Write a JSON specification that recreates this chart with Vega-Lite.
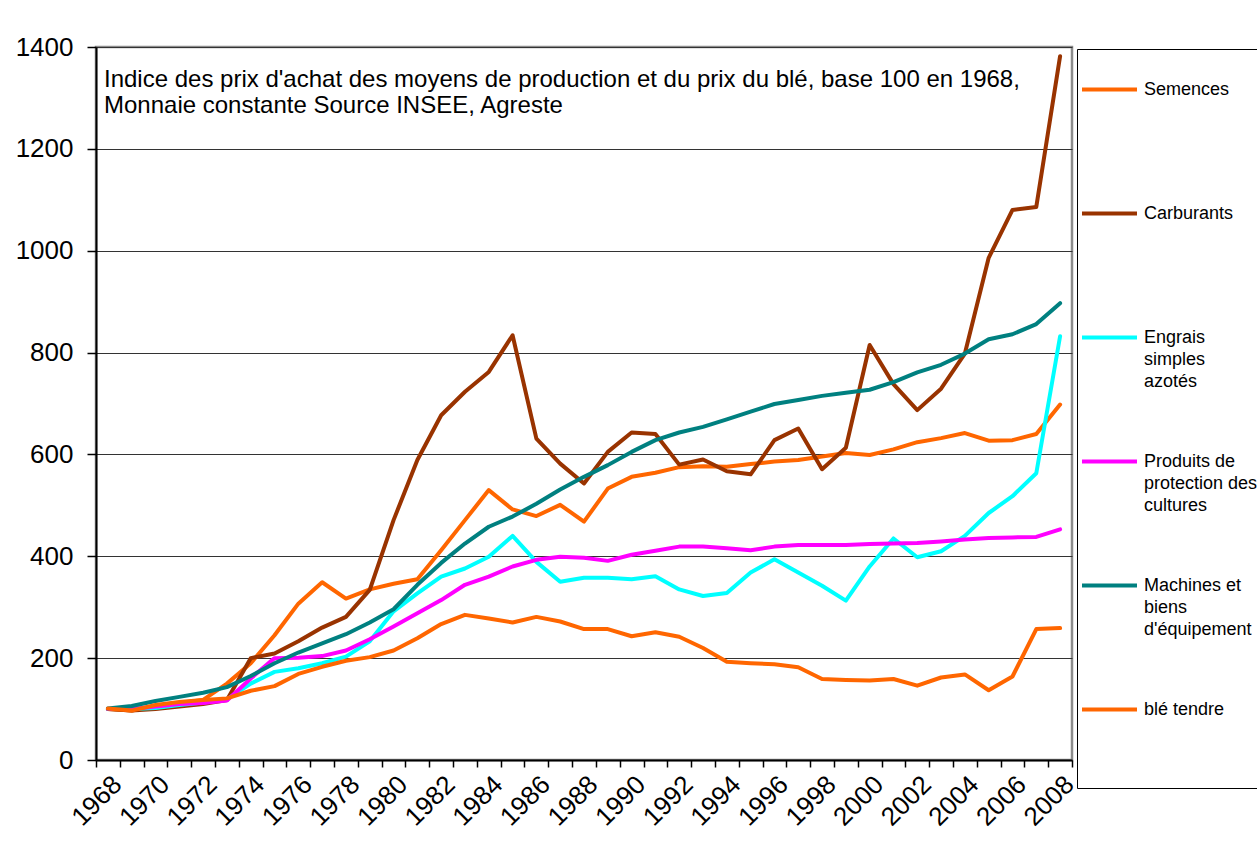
{
  "$schema": "https://vega.github.io/schema/vega-lite/v6.json",
  "width": 976,
  "height": 713,
  "autosize": {"type": "none"},
  "padding": {"left": 96, "top": 47, "right": 185, "bottom": 92},
  "background": "#ffffff",
  "config": {
    "font": "Liberation Sans",
    "view": {"stroke": "#8c8c8c", "strokeWidth": 2.5},
    "axis": {"labelFont": "Liberation Sans", "labelColor": "#000000", "domainColor": "#000000", "tickColor": "#000000", "titleFont": "Liberation Sans"}
  },
  "layer": [
    {
      "data": {"values": [
        {"year":1968,"series":"Semences","value":100},{"year":1969,"series":"Semences","value":97},{"year":1970,"series":"Semences","value":105},{"year":1971,"series":"Semences","value":112},{"year":1972,"series":"Semences","value":118},{"year":1973,"series":"Semences","value":150},{"year":1974,"series":"Semences","value":190},{"year":1975,"series":"Semences","value":245},{"year":1976,"series":"Semences","value":307},{"year":1977,"series":"Semences","value":349},{"year":1978,"series":"Semences","value":317},{"year":1979,"series":"Semences","value":335},{"year":1980,"series":"Semences","value":346},{"year":1981,"series":"Semences","value":355},{"year":1982,"series":"Semences","value":412},{"year":1983,"series":"Semences","value":471},{"year":1984,"series":"Semences","value":530},{"year":1985,"series":"Semences","value":492},{"year":1986,"series":"Semences","value":479},{"year":1987,"series":"Semences","value":501},{"year":1988,"series":"Semences","value":468},{"year":1989,"series":"Semences","value":533},{"year":1990,"series":"Semences","value":556},{"year":1991,"series":"Semences","value":564},{"year":1992,"series":"Semences","value":575},{"year":1993,"series":"Semences","value":577},{"year":1994,"series":"Semences","value":576},{"year":1995,"series":"Semences","value":581},{"year":1996,"series":"Semences","value":586},{"year":1997,"series":"Semences","value":589},{"year":1998,"series":"Semences","value":596},{"year":1999,"series":"Semences","value":603},{"year":2000,"series":"Semences","value":599},{"year":2001,"series":"Semences","value":610},{"year":2002,"series":"Semences","value":624},{"year":2003,"series":"Semences","value":632},{"year":2004,"series":"Semences","value":642},{"year":2005,"series":"Semences","value":627},{"year":2006,"series":"Semences","value":628},{"year":2007,"series":"Semences","value":640},{"year":2008,"series":"Semences","value":698},
        {"year":1968,"series":"Carburants","value":100},{"year":1969,"series":"Carburants","value":97},{"year":1970,"series":"Carburants","value":100},{"year":1971,"series":"Carburants","value":105},{"year":1972,"series":"Carburants","value":110},{"year":1973,"series":"Carburants","value":118},{"year":1974,"series":"Carburants","value":200},{"year":1975,"series":"Carburants","value":209},{"year":1976,"series":"Carburants","value":233},{"year":1977,"series":"Carburants","value":260},{"year":1978,"series":"Carburants","value":281},{"year":1979,"series":"Carburants","value":334},{"year":1980,"series":"Carburants","value":471},{"year":1981,"series":"Carburants","value":589},{"year":1982,"series":"Carburants","value":677},{"year":1983,"series":"Carburants","value":723},{"year":1984,"series":"Carburants","value":762},{"year":1985,"series":"Carburants","value":834},{"year":1986,"series":"Carburants","value":631},{"year":1987,"series":"Carburants","value":582},{"year":1988,"series":"Carburants","value":543},{"year":1989,"series":"Carburants","value":605},{"year":1990,"series":"Carburants","value":643},{"year":1991,"series":"Carburants","value":640},{"year":1992,"series":"Carburants","value":580},{"year":1993,"series":"Carburants","value":590},{"year":1994,"series":"Carburants","value":567},{"year":1995,"series":"Carburants","value":561},{"year":1996,"series":"Carburants","value":628},{"year":1997,"series":"Carburants","value":651},{"year":1998,"series":"Carburants","value":571},{"year":1999,"series":"Carburants","value":613},{"year":2000,"series":"Carburants","value":815},{"year":2001,"series":"Carburants","value":738},{"year":2002,"series":"Carburants","value":687},{"year":2003,"series":"Carburants","value":729},{"year":2004,"series":"Carburants","value":798},{"year":2005,"series":"Carburants","value":986},{"year":2006,"series":"Carburants","value":1080},{"year":2007,"series":"Carburants","value":1086},{"year":2008,"series":"Carburants","value":1382},
        {"year":1968,"series":"Engrais simples azotés","value":100},{"year":1969,"series":"Engrais simples azotés","value":100},{"year":1970,"series":"Engrais simples azotés","value":102},{"year":1971,"series":"Engrais simples azotés","value":108},{"year":1972,"series":"Engrais simples azotés","value":113},{"year":1973,"series":"Engrais simples azotés","value":119},{"year":1974,"series":"Engrais simples azotés","value":150},{"year":1975,"series":"Engrais simples azotés","value":173},{"year":1976,"series":"Engrais simples azotés","value":180},{"year":1977,"series":"Engrais simples azotés","value":190},{"year":1978,"series":"Engrais simples azotés","value":203},{"year":1979,"series":"Engrais simples azotés","value":233},{"year":1980,"series":"Engrais simples azotés","value":292},{"year":1981,"series":"Engrais simples azotés","value":327},{"year":1982,"series":"Engrais simples azotés","value":360},{"year":1983,"series":"Engrais simples azotés","value":376},{"year":1984,"series":"Engrais simples azotés","value":399},{"year":1985,"series":"Engrais simples azotés","value":440},{"year":1986,"series":"Engrais simples azotés","value":389},{"year":1987,"series":"Engrais simples azotés","value":350},{"year":1988,"series":"Engrais simples azotés","value":358},{"year":1989,"series":"Engrais simples azotés","value":358},{"year":1990,"series":"Engrais simples azotés","value":355},{"year":1991,"series":"Engrais simples azotés","value":361},{"year":1992,"series":"Engrais simples azotés","value":335},{"year":1993,"series":"Engrais simples azotés","value":322},{"year":1994,"series":"Engrais simples azotés","value":328},{"year":1995,"series":"Engrais simples azotés","value":368},{"year":1996,"series":"Engrais simples azotés","value":394},{"year":1997,"series":"Engrais simples azotés","value":368},{"year":1998,"series":"Engrais simples azotés","value":342},{"year":1999,"series":"Engrais simples azotés","value":313},{"year":2000,"series":"Engrais simples azotés","value":380},{"year":2001,"series":"Engrais simples azotés","value":435},{"year":2002,"series":"Engrais simples azotés","value":398},{"year":2003,"series":"Engrais simples azotés","value":410},{"year":2004,"series":"Engrais simples azotés","value":440},{"year":2005,"series":"Engrais simples azotés","value":485},{"year":2006,"series":"Engrais simples azotés","value":518},{"year":2007,"series":"Engrais simples azotés","value":563},{"year":2008,"series":"Engrais simples azotés","value":832},
        {"year":1968,"series":"Produits de protection des cultures","value":100},{"year":1969,"series":"Produits de protection des cultures","value":100},{"year":1970,"series":"Produits de protection des cultures","value":105},{"year":1971,"series":"Produits de protection des cultures","value":110},{"year":1972,"series":"Produits de protection des cultures","value":112},{"year":1973,"series":"Produits de protection des cultures","value":117},{"year":1974,"series":"Produits de protection des cultures","value":160},{"year":1975,"series":"Produits de protection des cultures","value":200},{"year":1976,"series":"Produits de protection des cultures","value":201},{"year":1977,"series":"Produits de protection des cultures","value":204},{"year":1978,"series":"Produits de protection des cultures","value":215},{"year":1979,"series":"Produits de protection des cultures","value":237},{"year":1980,"series":"Produits de protection des cultures","value":262},{"year":1981,"series":"Produits de protection des cultures","value":288},{"year":1982,"series":"Produits de protection des cultures","value":314},{"year":1983,"series":"Produits de protection des cultures","value":344},{"year":1984,"series":"Produits de protection des cultures","value":360},{"year":1985,"series":"Produits de protection des cultures","value":380},{"year":1986,"series":"Produits de protection des cultures","value":393},{"year":1987,"series":"Produits de protection des cultures","value":399},{"year":1988,"series":"Produits de protection des cultures","value":397},{"year":1989,"series":"Produits de protection des cultures","value":391},{"year":1990,"series":"Produits de protection des cultures","value":403},{"year":1991,"series":"Produits de protection des cultures","value":411},{"year":1992,"series":"Produits de protection des cultures","value":419},{"year":1993,"series":"Produits de protection des cultures","value":419},{"year":1994,"series":"Produits de protection des cultures","value":416},{"year":1995,"series":"Produits de protection des cultures","value":412},{"year":1996,"series":"Produits de protection des cultures","value":419},{"year":1997,"series":"Produits de protection des cultures","value":422},{"year":1998,"series":"Produits de protection des cultures","value":422},{"year":1999,"series":"Produits de protection des cultures","value":422},{"year":2000,"series":"Produits de protection des cultures","value":424},{"year":2001,"series":"Produits de protection des cultures","value":425},{"year":2002,"series":"Produits de protection des cultures","value":426},{"year":2003,"series":"Produits de protection des cultures","value":429},{"year":2004,"series":"Produits de protection des cultures","value":433},{"year":2005,"series":"Produits de protection des cultures","value":436},{"year":2006,"series":"Produits de protection des cultures","value":437},{"year":2007,"series":"Produits de protection des cultures","value":438},{"year":2008,"series":"Produits de protection des cultures","value":453},
        {"year":1968,"series":"Machines et biens d'équipement","value":101},{"year":1969,"series":"Machines et biens d'équipement","value":106},{"year":1970,"series":"Machines et biens d'équipement","value":116},{"year":1971,"series":"Machines et biens d'équipement","value":124},{"year":1972,"series":"Machines et biens d'équipement","value":132},{"year":1973,"series":"Machines et biens d'équipement","value":143},{"year":1974,"series":"Machines et biens d'équipement","value":165},{"year":1975,"series":"Machines et biens d'équipement","value":190},{"year":1976,"series":"Machines et biens d'équipement","value":211},{"year":1977,"series":"Machines et biens d'équipement","value":229},{"year":1978,"series":"Machines et biens d'équipement","value":247},{"year":1979,"series":"Machines et biens d'équipement","value":270},{"year":1980,"series":"Machines et biens d'équipement","value":296},{"year":1981,"series":"Machines et biens d'équipement","value":344},{"year":1982,"series":"Machines et biens d'équipement","value":387},{"year":1983,"series":"Machines et biens d'équipement","value":425},{"year":1984,"series":"Machines et biens d'équipement","value":458},{"year":1985,"series":"Machines et biens d'équipement","value":478},{"year":1986,"series":"Machines et biens d'équipement","value":503},{"year":1987,"series":"Machines et biens d'équipement","value":531},{"year":1988,"series":"Machines et biens d'équipement","value":556},{"year":1989,"series":"Machines et biens d'équipement","value":579},{"year":1990,"series":"Machines et biens d'équipement","value":605},{"year":1991,"series":"Machines et biens d'équipement","value":628},{"year":1992,"series":"Machines et biens d'équipement","value":643},{"year":1993,"series":"Machines et biens d'équipement","value":654},{"year":1994,"series":"Machines et biens d'équipement","value":669},{"year":1995,"series":"Machines et biens d'équipement","value":684},{"year":1996,"series":"Machines et biens d'équipement","value":699},{"year":1997,"series":"Machines et biens d'équipement","value":707},{"year":1998,"series":"Machines et biens d'équipement","value":715},{"year":1999,"series":"Machines et biens d'équipement","value":721},{"year":2000,"series":"Machines et biens d'équipement","value":727},{"year":2001,"series":"Machines et biens d'équipement","value":742},{"year":2002,"series":"Machines et biens d'équipement","value":761},{"year":2003,"series":"Machines et biens d'équipement","value":776},{"year":2004,"series":"Machines et biens d'équipement","value":798},{"year":2005,"series":"Machines et biens d'équipement","value":826},{"year":2006,"series":"Machines et biens d'équipement","value":836},{"year":2007,"series":"Machines et biens d'équipement","value":856},{"year":2008,"series":"Machines et biens d'équipement","value":897},
        {"year":1968,"series":"blé tendre","value":101},{"year":1969,"series":"blé tendre","value":97},{"year":1970,"series":"blé tendre","value":108},{"year":1971,"series":"blé tendre","value":114},{"year":1972,"series":"blé tendre","value":118},{"year":1973,"series":"blé tendre","value":121},{"year":1974,"series":"blé tendre","value":136},{"year":1975,"series":"blé tendre","value":145},{"year":1976,"series":"blé tendre","value":169},{"year":1977,"series":"blé tendre","value":183},{"year":1978,"series":"blé tendre","value":195},{"year":1979,"series":"blé tendre","value":202},{"year":1980,"series":"blé tendre","value":215},{"year":1981,"series":"blé tendre","value":239},{"year":1982,"series":"blé tendre","value":267},{"year":1983,"series":"blé tendre","value":285},{"year":1984,"series":"blé tendre","value":278},{"year":1985,"series":"blé tendre","value":270},{"year":1986,"series":"blé tendre","value":281},{"year":1987,"series":"blé tendre","value":272},{"year":1988,"series":"blé tendre","value":257},{"year":1989,"series":"blé tendre","value":257},{"year":1990,"series":"blé tendre","value":243},{"year":1991,"series":"blé tendre","value":251},{"year":1992,"series":"blé tendre","value":242},{"year":1993,"series":"blé tendre","value":220},{"year":1994,"series":"blé tendre","value":193},{"year":1995,"series":"blé tendre","value":190},{"year":1996,"series":"blé tendre","value":188},{"year":1997,"series":"blé tendre","value":182},{"year":1998,"series":"blé tendre","value":159},{"year":1999,"series":"blé tendre","value":157},{"year":2000,"series":"blé tendre","value":156},{"year":2001,"series":"blé tendre","value":159},{"year":2002,"series":"blé tendre","value":146},{"year":2003,"series":"blé tendre","value":162},{"year":2004,"series":"blé tendre","value":168},{"year":2005,"series":"blé tendre","value":137},{"year":2006,"series":"blé tendre","value":164},{"year":2007,"series":"blé tendre","value":257},{"year":2008,"series":"blé tendre","value":259}
      ]},
      "mark": {"type": "line", "strokeWidth": 4, "strokeCap": "round", "strokeJoin": "round"},
      "encoding": {
        "x": {
          "field": "year", "type": "ordinal", "bandPosition": 0.5,
          "scale": {"type": "band", "paddingInner": 0, "paddingOuter": 0},
          "axis": {"title": null, "tickBand": "extent", "tickSize": 7, "tickWidth": 1.5, "domainWidth": 2, "labelAngle": -45, "labelFontSize": 26, "labelPadding": 4, "labelExpr": "datum.value % 2 == 0 ? datum.label : ''", "grid": false}
        },
        "y": {
          "field": "value", "type": "quantitative",
          "scale": {"domain": [0, 1400], "nice": false},
          "axis": {"title": null, "format": "d", "values": [0, 200, 400, 600, 800, 1000, 1200, 1400], "grid": true, "gridColor": "#333333", "gridWidth": 1, "tickSize": 9, "tickWidth": 1.5, "domainWidth": 2, "labelFontSize": 26, "labelPadding": 14}
        },
        "color": {
          "field": "series", "type": "nominal",
          "scale": {"domain": ["Semences", "Carburants", "Engrais simples azotés", "Produits de protection des cultures", "Machines et biens d'équipement", "blé tendre"], "range": ["#ff6600", "#993300", "#00ffff", "#ff00ff", "#008080", "#ff6600"]},
          "legend": {
            "orient": "none", "legendX": 981, "legendY": 2, "title": " ", "titleOrient": "bottom", "titleFontSize": 10, "titlePadding": 48,
            "symbolType": "stroke", "symbolSize": 3025, "symbolStrokeWidth": 4, "symbolOffset": -8,
            "labelFontSize": 18, "labelFont": "Liberation Sans", "labelColor": "#000000", "labelOffset": 5, "labelLimit": 400,
            "labelExpr": "indexof(datum.label, 'Engrais') == 0 ? ['Engrais', 'simples', 'azotés'] : indexof(datum.label, 'Produits') == 0 ? ['Produits de', 'protection des', 'cultures'] : indexof(datum.label, 'Machines') == 0 ? ['Machines et', 'biens', \"d'équipement\"] : datum.label",
            "rowPadding": 41, "gridAlign": "all", "padding": 11, "strokeColor": "#000000", "fillColor": "#ffffff",
            "encode": {"labels": {"update": {"lineHeight": {"value": 22}}}}
          }
        }
      }
    },
    {
      "data": {"values": [{}]},
      "mark": {"type": "text", "align": "left", "baseline": "top", "fontSize": 24, "font": "Liberation Sans", "lineHeight": 26, "color": "#000000", "dx": 8, "dy": 21,
        "text": ["Indice des prix d'achat des moyens de production et du prix du blé, base 100 en 1968,", "Monnaie constante Source INSEE, Agreste"]},
      "encoding": {
        "x": {"datum": 1968, "type": "ordinal", "bandPosition": 0},
        "y": {"datum": 1400, "type": "quantitative"}
      }
    }
  ]
}
